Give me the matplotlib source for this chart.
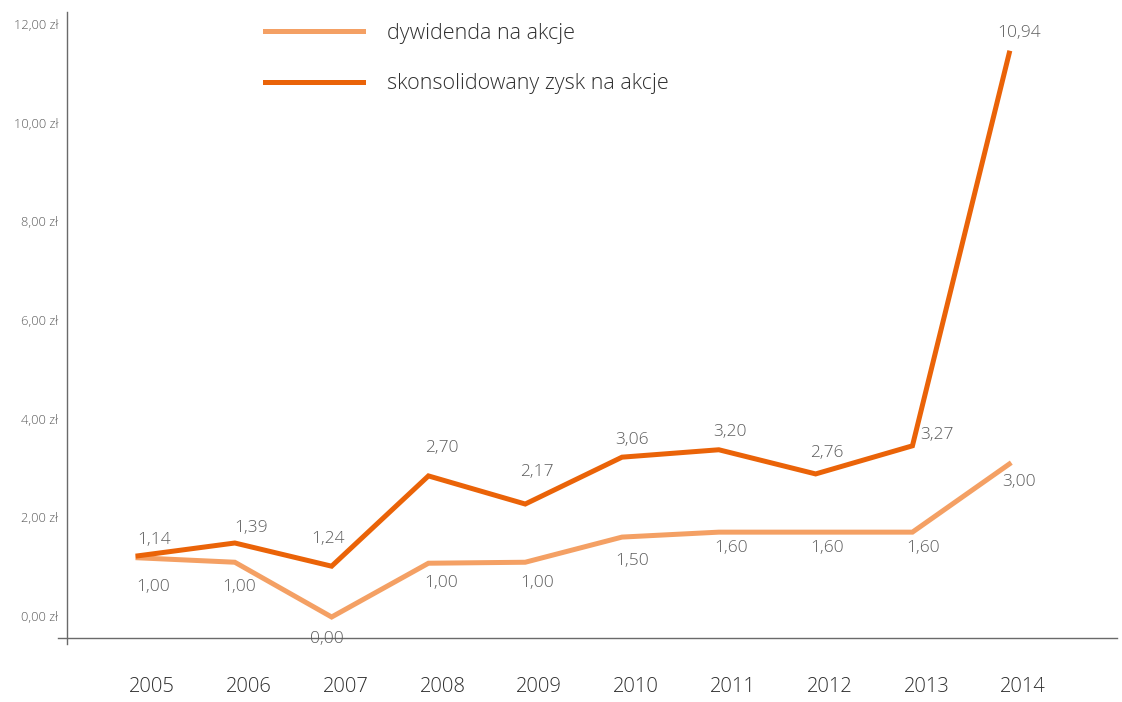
import numpy as np
import matplotlib
matplotlib.use("Agg")
from matplotlib import pyplot as plt

# dane
lata = ['2005', '2006', '2007', '2008', '2009', '2010', '2011', '2012', '2013', '2014']
dywidenda = [1.18, 1.09, -0.02, 1.07, 1.09, 1.60, 1.70, 1.70, 1.70, 3.08]
zysk = [1.22, 1.48, 1.01, 2.84, 2.27, 3.22, 3.37, 2.88, 3.45, 11.41]
etykiety_dywidenda = ['1,00', '1,00', '0,00', '1,00', '1,00', '1,50', '1,60', '1,60', '1,60', '3,00']
etykiety_zysk = ['1,14', '1,39', '1,24', '2,70', '2,17', '3,06', '3,20', '2,76', '3,27', '10,94']
osie_y = [0, 2, 4, 6, 8, 10, 12]

# przesuniecia etykiet w pikselach (dx, dy w dol)
off_dyw = [(15, 29), (4, 25), (-5, 22), (13, 20), (12, 21), (10, 24), (12, 16), (11, 16), (11, 16), (10, 18)]
off_zysk = [(16, -16), (16, -15), (-4, -27), (13, -28), (12, -32), (10, -17), (11, -18), (11, -21), (25, -11), (10, -20)]

plt.rcParams['font.family'] = ['Open Sans', 'DejaVu Sans']
plt.rcParams['font.weight'] = 'light'

kolor_jasny = '#F4A064'
kolor_ciemny = '#EA6308'
szary = '#5c5c5c'

fig = plt.figure(figsize=(11.22, 7.02), dpi=100)
ax = fig.add_axes([0, 0, 1, 1])
ax.set_facecolor('none')

x = np.arange(len(lata))
ax.plot(x, dywidenda, color=kolor_jasny, lw=3.6, label='dywidenda na akcje', solid_joinstyle='miter')
ax.plot(x, zysk, color=kolor_ciemny, lw=3.6, label='skonsolidowany zysk na akcje', solid_joinstyle='miter')

ax.set_xlim(-1.426, 10.165)
ax.set_ylim(-1.743, 12.487)

# osie
for s in ['top', 'right']:
    ax.spines[s].set_visible(False)
ax.spines['left'].set_position(('data', -0.733))
ax.spines['left'].set_bounds(-0.57, 12.24)
ax.spines['bottom'].set_position(('data', -0.446))
ax.spines['bottom'].set_bounds(-0.826, 10.114)
for s in ['left', 'bottom']:
    ax.spines[s].set_color('#6a6a6a')
    ax.spines[s].set_linewidth(1.0)

ax.set_yticks(osie_y)
ax.set_yticklabels([f'{v},00 zł' for v in osie_y], fontsize=9.3, color=szary)
ax.tick_params(axis='y', length=0, pad=6.5)
ax.set_xticks([])

for i, rok in enumerate(lata):
    ax.text(i + 0.145, -1.44, rok, ha='center', va='center', fontsize=14.5, color='#2e2e2e')

for i in range(len(lata)):
    dx, dy = off_dyw[i]
    ax.annotate(etykiety_dywidenda[i], (x[i], dywidenda[i]), xytext=(dx * 0.72, -dy * 0.72),
                textcoords='offset points', ha='center', va='center', fontsize=12.5, color=szary)
    dx, dy = off_zysk[i]
    ax.annotate(etykiety_zysk[i], (x[i], zysk[i]), xytext=(dx * 0.72, -dy * 0.72),
                textcoords='offset points', ha='center', va='center', fontsize=12.5, color=szary)

leg = ax.legend(loc='upper left', bbox_to_anchor=(265 / 1122, 1 - 23 / 702), bbox_transform=fig.transFigure,
                frameon=False, fontsize=15.5, handlelength=4.55, handletextpad=1.1, labelspacing=1.35,
                borderpad=0, borderaxespad=0)
for t in leg.get_texts():
    t.set_color('#2e2e2e')

fig.savefig('out.png', dpi=100)
